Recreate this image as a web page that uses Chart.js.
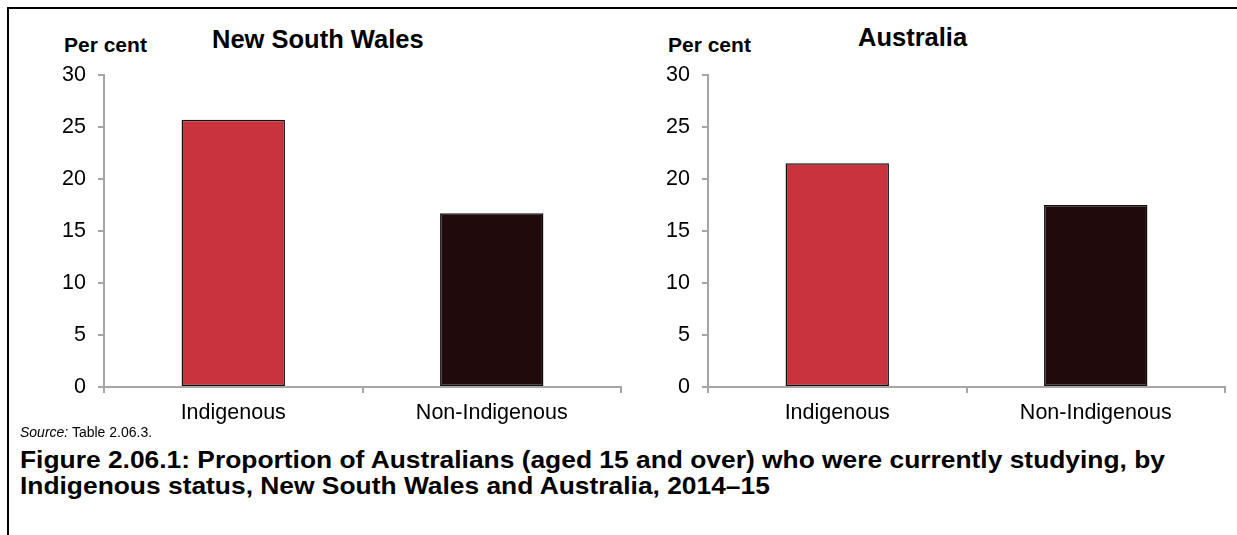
<!DOCTYPE html>
<html>
<head>
<meta charset="utf-8">
<script src="https://cdn.jsdelivr.net/npm/chart.js@4/dist/chart.umd.min.js"></script>
<style>
  html, body { margin: 0; padding: 0; background: #fff; }
  body { width: 1237px; height: 535px; position: relative; overflow: hidden; font-family: "Liberation Sans", Arial, sans-serif; color: #000; }
  .frame { position: absolute; left: 7px; top: 7px; width: 1300px; height: 700px; border-left: 2px solid #000; border-top: 2px solid #000; }
  .t { position: absolute; white-space: nowrap; line-height: 1; }
  .box { position: absolute; }
  #cap { transform-origin: 0 0; }
</style>
</head>
<body>
<div class="frame"></div>
<div class="t" style="left:64px; top:34px; font-weight:bold; font-size:21px;">Per cent</div>
<div class="t" style="left:212px; top:27px; font-weight:bold; font-size:25.5px;">New South Wales</div>
<div class="t" style="left:668px; top:34px; font-weight:bold; font-size:21px;">Per cent</div>
<div class="t" style="left:858px; top:25px; font-weight:bold; font-size:25.5px;">Australia</div>
<div class="box" style="left:0px; top:50px; width:625px; height:377px;"><canvas id="c1"></canvas></div>
<div class="box" style="left:604px; top:50px; width:625px; height:377px;"><canvas id="c2"></canvas></div>
<div class="t" style="left:20px; top:425px; font-size:14px;"><i>Source:</i> Table 2.06.3.</div>
<div class="t" id="cap" style="left:20px; top:447px; font-weight:bold; font-size:24px; line-height:26px;"><span id="cap1">Figure 2.06.1: Proportion of Australians (aged 15 and over) who were currently studying, by</span><br>Indigenous status, New South Wales and Australia, 2014–15</div>
<script>
const categories = ["Indigenous", "Non-Indigenous"];
const nswValues = [25.7, 16.7];
const ausValues = [21.5, 17.5];
const yTicks = [0, 5, 10, 15, 20, 25, 30];
const barColors = ["#C8333D", "#200A0C"];

// stretch caption horizontally to the reference's text width
(function () {
  const cap = document.getElementById('cap');
  const w = document.getElementById('cap1').getBoundingClientRect().width;
  cap.style.transform = 'scaleX(' + (1145 / w) + ')';
})();

function makeChart(id, values) {
  return new Chart(document.getElementById(id), {
    type: 'bar',
    data: {
      labels: categories,
      datasets: [{
        data: values,
        backgroundColor: barColors,
        borderColor: "#111",
        borderWidth: 1.5,
        borderSkipped: false,
        barPercentage: 0.4,
        categoryPercentage: 1.0
      }]
    },
    options: {
      responsive: true,
      maintainAspectRatio: false,
      animation: false,
      events: [],
      layout: { padding: { top: 0, right: 4, left: 0, bottom: 0 } },
      plugins: { legend: { display: false }, tooltip: { enabled: false }, title: { display: false } },
      scales: {
        x: {
          grid: { display: true, drawOnChartArea: false, drawTicks: true, tickLength: 6, color: "#A6A6A6", lineWidth: 2, offset: true },
          border: { display: true, color: "#A6A6A6", width: 2 },
          ticks: { color: "#000", font: { family: "Liberation Sans", size: 21.5 }, padding: 7, maxRotation: 0 },
          afterFit: (s) => { s.height = 40; }
        },
        y: {
          min: 0, max: 30,
          afterBuildTicks: (s) => { s.ticks = yTicks.map(v => ({ value: v })); },
          grid: { display: true, drawOnChartArea: false, drawTicks: true, tickLength: 6, color: "#A6A6A6", lineWidth: 2 },
          border: { display: true, color: "#A6A6A6", width: 2 },
          ticks: { color: "#000", font: { family: "Liberation Sans", size: 21.5 }, padding: 12 },
          afterFit: (s) => { s.width = 104; }
        }
      }
    }
  });
}
makeChart('c1', nswValues);
makeChart('c2', ausValues);
</script>
</body>
</html>
